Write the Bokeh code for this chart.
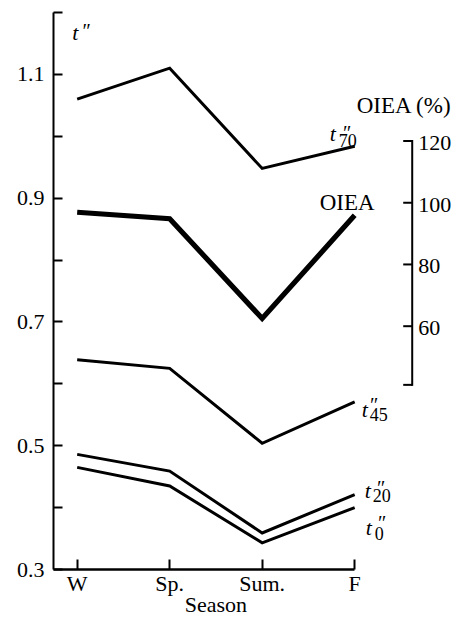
from bokeh.plotting import figure
from bokeh.models import Range1d, LinearAxis, FixedTicker
from bokeh.core.properties import value
from bokeh.embed import file_html
from bokeh.resources import INLINE

# ---- data ----
seasons = ["W", "Sp.", "Sum.", "F"]
t70 = [1.060, 1.110, 0.948, 0.984]
t45 = [0.639, 0.625, 0.504, 0.571]
t20 = [0.486, 0.459, 0.359, 0.421]
t0 = [0.465, 0.435, 0.343, 0.400]
oiea = [96.9, 94.8, 62.5, 95.9]
t_major = [0.3, 0.5, 0.7, 0.9, 1.1]
t_minor = [0.4, 0.6, 0.8, 1.0, 1.2]
oiea_ticks = [60, 80, 100, 120]
oiea_bounds = (41, 120)

x = list(range(len(seasons)))
FONT = "Liberation Serif"

# ---- layout constants ----
W, H = 455, 619
LEFT, TOP, BOTTOM = 53, 12, 50
PX_PER_CAT = 92.5
X0 = -0.256
X1 = X0 + (W - LEFT) / PX_PER_CAT
RIGHT_AXIS_X = 3.622          # where the OIEA scale stands
TICK_LEN = 9 / PX_PER_CAT

p = figure(width=W, height=H,
           x_range=Range1d(X0, X1), y_range=Range1d(0.3, 1.2),
           output_backend="svg", toolbar_location=None,
           min_border_left=LEFT, min_border_right=0,
           min_border_top=TOP, min_border_bottom=BOTTOM)
p.grid.visible = False
p.outline_line_color = None
p.background_fill_color = "white"
p.border_fill_color = "white"

# left axis
ya = p.yaxis[0]
ya.ticker = FixedTicker(ticks=t_major, minor_ticks=t_minor)
ya.major_tick_in = 9
ya.major_tick_out = 0
ya.minor_tick_in = 9
ya.minor_tick_out = 0
ya.axis_line_width = 2
ya.major_tick_line_width = 2
ya.minor_tick_line_width = 2
ya.major_label_standoff = 9
ya.major_label_text_font = FONT
ya.major_label_text_font_size = "22px"
ya.major_label_text_color = "black"

# bottom axis
xa = p.xaxis[0]
xa.ticker = FixedTicker(ticks=x)
xa.major_label_overrides = {i: s for i, s in zip(x, seasons)}
xa.bounds = (X0, x[-1])
xa.major_tick_in = 10
xa.major_tick_out = 0
xa.minor_tick_line_color = None
xa.axis_line_width = 2.5
xa.major_tick_line_width = 2
xa.major_label_standoff = 1
xa.major_label_text_font = FONT
xa.major_label_text_font_size = "22px"
xa.major_label_text_color = "black"

# "Season" title as a second, bare bottom axis centred under the seasons
mid = (x[0] + x[-1]) / 2
sa = LinearAxis(ticker=FixedTicker(ticks=[mid]),
                major_label_overrides={mid: "Season"})
sa.axis_line_color = None
sa.major_tick_line_color = None
sa.minor_tick_line_color = None
sa.major_label_standoff = -13
sa.major_label_text_font = FONT
sa.major_label_text_font_size = "22px"
sa.major_label_text_color = "black"
p.add_layout(sa, "below")

# OIEA (%) scale, drawn on the extra range
p.extra_y_ranges = {"oiea": Range1d(-18.8, 161.6)}
p.segment(x0=[RIGHT_AXIS_X], y0=[oiea_bounds[0]], x1=[RIGHT_AXIS_X],
          y1=[oiea_bounds[1]], y_range_name="oiea", line_color="black",
          line_width=2, line_cap="square")
p.segment(x0=[RIGHT_AXIS_X - TICK_LEN] * len(oiea_ticks), y0=oiea_ticks,
          x1=[RIGHT_AXIS_X] * len(oiea_ticks), y1=oiea_ticks,
          y_range_name="oiea", line_color="black", line_width=2)
p.segment(x0=[RIGHT_AXIS_X - TICK_LEN], y0=[oiea_bounds[0]],
          x1=[RIGHT_AXIS_X], y1=[oiea_bounds[0]],
          y_range_name="oiea", line_color="black", line_width=2)
p.text([RIGHT_AXIS_X] * len(oiea_ticks), oiea_ticks,
       text=[str(v) for v in oiea_ticks], x_offset=6, y_offset=2,
       y_range_name="oiea", text_font=value(FONT), text_font_size="22px",
       text_baseline="middle", text_align="left", text_color="black")

# lines
for ys in (t70, t45, t20, t0):
    p.line(x, ys, line_color="black", line_width=3, line_join="miter")
p.line(x, oiea, y_range_name="oiea", line_color="black", line_width=5.2,
       line_join="miter")

# series labels (t'' with subscript), anchored at the last point
def tlabel(ys, sub, dt, dp, ds):
    xl, yl = [x[-1]], [ys[-1]]
    p.text(xl, yl, text=["t"], x_offset=dt[0], y_offset=dt[1],
           text_font=value(FONT), text_font_style="italic",
           text_font_size="22px", text_baseline="alphabetic",
           text_align="left", text_color="black")
    p.text(xl, yl, text=["\u2033"], x_offset=dp[0], y_offset=dp[1],
           text_font=value(FONT), text_font_style="italic",
           text_font_size="20px", text_baseline="alphabetic",
           text_align="left", text_color="black")
    p.text(xl, yl, text=[sub], x_offset=ds[0], y_offset=ds[1],
           text_font=value(FONT), text_font_size="18px",
           text_baseline="alphabetic", text_align="left",
           text_color="black")

tlabel(t70, "70", (-25, -13), (-13, -13), (-16, -6))
tlabel(t45, "45", (7, 8), (14, 3), (15, 13))
tlabel(t20, "20", (10, -4), (21, -7), (18, 1))
tlabel(t0, "0", (11, 20), (22, 15), (20, 26))

p.text([x[-1]], [oiea[-1]], text=["OIEA"], x_offset=-35, y_offset=-13,
       y_range_name="oiea", text_font=value(FONT), text_font_size="23px",
       text_baseline="alphabetic", text_align="left", text_color="black")
p.text([x[-1]], [131.5], text=["OIEA (%)"], x_offset=2,
       y_range_name="oiea", text_font=value(FONT), text_font_size="23px",
       text_baseline="alphabetic", text_align="left", text_color="black")

# left axis title t''
p.text([x[0]], [t_minor[-1]], text=["t"], x_offset=-5, y_offset=32 - TOP,
       text_font=value(FONT), text_font_style="italic", text_font_size="22px",
       text_baseline="alphabetic", text_align="left", text_color="black")
p.text([x[0]], [t_minor[-1]], text=["\u2033"], x_offset=4, y_offset=30 - TOP,
       text_font=value(FONT), text_font_style="italic", text_font_size="20px",
       text_baseline="alphabetic", text_align="left", text_color="black")

open("out.html", "w").write(file_html(p, INLINE))
